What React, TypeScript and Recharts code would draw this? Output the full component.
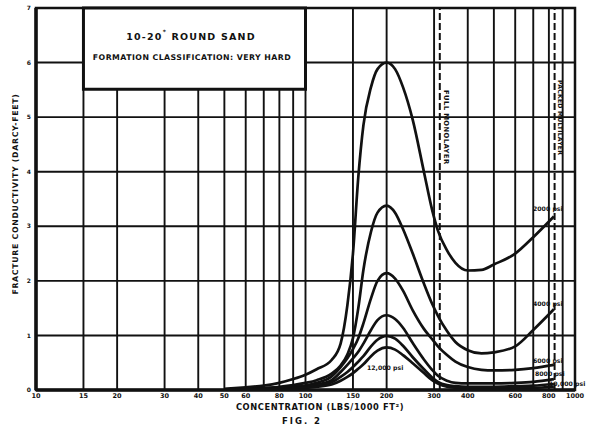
import { LineChart, Line, XAxis, YAxis, CartesianGrid, ReferenceLine, ReferenceArea } from "recharts";

// concentration, lbs / 1000 ft²
const CONC = [50, 60, 70, 80, 90, 100, 110, 125, 135, 143, 150, 157, 164, 175, 185, 200, 215, 230, 250, 275, 295, 310, 335, 360, 400, 450, 500, 600, 700, 835];

// fracture conductivity, darcy-feet
const P2000 = [0.02, 0.05, 0.08, 0.13, 0.2, 0.28, 0.38, 0.55, 0.85, 1.55, 2.5, 3.9, 4.85, 5.55, 5.88, 6.0, 5.88, 5.55, 4.95, 4.0, 3.3, 2.92, 2.56, 2.33, 2.19, 2.2, 2.3, 2.5, 2.8, 3.18];
const P4000 = [0.01, 0.02, 0.04, 0.06, 0.09, 0.13, 0.18, 0.3, 0.45, 0.65, 0.95, 1.5, 2.2, 2.9, 3.25, 3.38, 3.25, 2.95, 2.5, 1.95, 1.58, 1.36, 1.08, 0.88, 0.73, 0.67, 0.69, 0.8, 1.1, 1.48];
const P6000 = [0.01, 0.02, 0.03, 0.04, 0.06, 0.08, 0.13, 0.25, 0.42, 0.58, 0.75, 0.95, 1.22, 1.68, 2.0, 2.14, 2.04, 1.82, 1.46, 1.12, 0.93, 0.8, 0.64, 0.52, 0.42, 0.37, 0.36, 0.37, 0.4, 0.46];
const P8000 = [0.01, 0.01, 0.02, 0.03, 0.04, 0.06, 0.1, 0.18, 0.33, 0.46, 0.58, 0.7, 0.85, 1.1, 1.28, 1.37, 1.3, 1.14, 0.86, 0.56, 0.37, 0.26, 0.17, 0.13, 0.12, 0.12, 0.12, 0.13, 0.15, 0.2];
const P10000 = [0.005, 0.01, 0.015, 0.02, 0.03, 0.05, 0.08, 0.14, 0.24, 0.33, 0.42, 0.52, 0.62, 0.8, 0.92, 0.99, 0.94, 0.81, 0.6, 0.38, 0.23, 0.15, 0.09, 0.07, 0.06, 0.06, 0.06, 0.07, 0.08, 0.11];
const P12000 = [0.005, 0.008, 0.01, 0.015, 0.02, 0.04, 0.06, 0.1, 0.17, 0.24, 0.31, 0.39, 0.47, 0.62, 0.72, 0.78, 0.74, 0.64, 0.49, 0.31, 0.18, 0.12, 0.06, 0.04, 0.03, 0.03, 0.03, 0.03, 0.04, 0.06];

const X_TICKS = [10, 15, 20, 30, 40, 50, 60, 70, 80, 90, 100, 150, 200, 300, 400, 500, 600, 700, 800, 900, 1000];
const X_LABELED = [10, 15, 20, 30, 40, 50, 60, 80, 100, 150, 200, 300, 400, 600, 800, 1000];
const Y_TICKS = [0, 1, 2, 3, 4, 5, 6, 7];

const FULL_MONOLAYER = 315;
const MULTILAYER = 840;

const SERIES = [
  { key: "p2000", values: P2000 },
  { key: "p4000", values: P4000 },
  { key: "p6000", values: P6000 },
  { key: "p8000", values: P8000 },
  { key: "p10000", values: P10000 },
  { key: "p12000", values: P12000 },
];

const rows = CONC.map((x, i) => {
  const r: Record<string, number> = { x };
  SERIES.forEach(s => { r[s.key] = s.values[i]; });
  return r;
});

const FONT = "'DejaVu Sans', sans-serif";
const ink = "#111";

export default function App() {
  return (
    <div style={{ position: "relative", width: 604, height: 427, background: "#fff" }}>
      <style>{"body{margin:0;background:#fff}"}</style>
      <LineChart width={604} height={427} data={rows} margin={{ top: 8, right: 29, left: 0, bottom: 0 }}>
        <CartesianGrid stroke={ink} strokeWidth={1.9} />
        <XAxis
          dataKey="x"
          type="number"
          scale="log"
          domain={[10, 1000]}
          ticks={X_TICKS}
          interval={0}
          allowDataOverflow
          height={37}
          tickSize={0}
          tickMargin={3}
          axisLine={{ stroke: ink, strokeWidth: 3.5 }}
          tickFormatter={v => (X_LABELED.includes(v) ? String(v) : "")}
          tick={{ fontSize: 6.5, fontWeight: 700, fill: ink, fontFamily: FONT }}
        />
        <YAxis
          type="number"
          domain={[0, 7]}
          ticks={Y_TICKS}
          width={36}
          tickSize={0}
          tickMargin={5}
          axisLine={{ stroke: ink, strokeWidth: 3.5 }}
          tick={{ fontSize: 6, fontWeight: 700, fill: ink, fontFamily: FONT }}
        />
        <ReferenceArea x1={10} x2={1000} y1={0} y2={7} fill="none" stroke={ink} strokeWidth={2.5} ifOverflow="visible" />
        <ReferenceArea x1={15} x2={100} y1={5.51} y2={7} fill="#fff" fillOpacity={1} stroke={ink} strokeWidth={3} ifOverflow="visible" />
        <ReferenceLine x={FULL_MONOLAYER} stroke={ink} strokeWidth={2} strokeDasharray="7 3" />
        <ReferenceLine x={MULTILAYER} stroke={ink} strokeWidth={2} strokeDasharray="7 3" />
        {SERIES.map(s => (
          <Line key={s.key} dataKey={s.key} type="monotone" stroke={ink} strokeWidth={2.7} dot={false} isAnimationActive={false} />
        ))}
      </LineChart>
      <svg width={604} height={427} style={{ position: "absolute", left: 0, top: 0, pointerEvents: "none" }} fontFamily={FONT} fontWeight={700} fill={ink}>
        <text x={191} y={40} fontSize={9.5} letterSpacing={1.2} textAnchor="middle">
          10-20<tspan fontSize={6} dy={-6}>*</tspan><tspan dy={6}> ROUND SAND</tspan>
        </text>
        <text x={192} y={60} fontSize={7.8} letterSpacing={0.45} textAnchor="middle">FORMATION CLASSIFICATION: VERY HARD</text>
        <text x={18} y={194} fontSize={7.8} letterSpacing={0.7} textAnchor="middle" transform="rotate(-90 18 194)">FRACTURE CONDUCTIVITY (DARCY-FEET)</text>
        <text x={320} y={410} fontSize={8.3} letterSpacing={0.6} textAnchor="middle">CONCENTRATION (LBS/1000 FT²)</text>
        <text x={302} y={424} fontSize={8.5} letterSpacing={2} textAnchor="middle">FIG. 2</text>
        <text x={444} y={90} fontSize={6.8} letterSpacing={0.4} transform="rotate(90 444 90)">FULL MONOLAYER</text>
        <text x={558} y={80} fontSize={6.2} letterSpacing={0.2} transform="rotate(90 558 80)">PACKED MULTILAYER</text>
        <g fontSize={6.2}>
          <text x={533} y={211}>2000 psi</text>
          <text x={533} y={306}>4000 psi</text>
          <text x={533} y={363}>6000 psi</text>
          <text x={535} y={376}>8000 psi</text>
          <text x={549} y={386}>10,000 psi</text>
          <text x={367} y={370}>12,000 psi</text>
        </g>
      </svg>
    </div>
  );
}
